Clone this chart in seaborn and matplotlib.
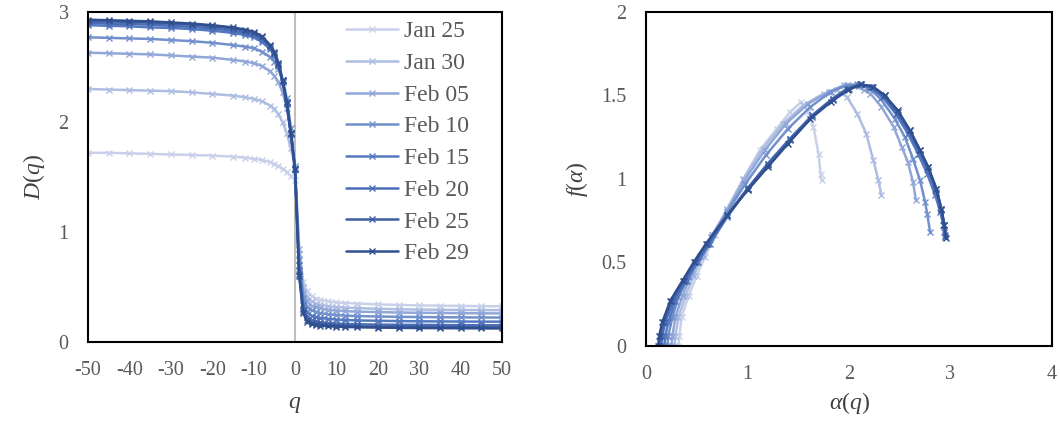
import numpy as np
import pandas as pd
import matplotlib
matplotlib.use('Agg')
import matplotlib.pyplot as plt
import seaborn as sns

dates = ['Jan 25', 'Jan 30', 'Feb 05', 'Feb 10', 'Feb 15', 'Feb 20', 'Feb 25', 'Feb 29']
colors = ['#c9d1ea', '#aebde2', '#91a7d8', '#7190cc', '#5479c0', '#4a6db6', '#3d5fa4', '#2f4f8e']

# generalized dimensions D(q)
q_vals = [-50, -45, -40, -35, -30, -25, -20, -15, -12, -10, -8, -6, -5, -4, -3, -2, -1, 0,
          1, 2, 3, 4, 5, 6, 8, 10, 12, 15, 20, 25, 30, 35, 40, 45, 50]

D_jan25 = [1.72, 1.72, 1.715, 1.71, 1.705, 1.70, 1.695, 1.685, 1.675, 1.665, 1.655, 1.635, 1.62, 1.60, 1.575, 1.545, 1.51, 1.47,
           0.85, 0.55, 0.46, 0.42, 0.395, 0.385, 0.37, 0.36, 0.355, 0.35, 0.342, 0.337, 0.333, 0.33, 0.328, 0.326, 0.325]
D_jan30 = [2.30, 2.295, 2.29, 2.285, 2.28, 2.27, 2.255, 2.24, 2.225, 2.21, 2.19, 2.15, 2.12, 2.07, 2.00, 1.90, 1.76, 1.60,
           0.85, 0.50, 0.41, 0.37, 0.35, 0.34, 0.325, 0.318, 0.313, 0.308, 0.302, 0.298, 0.295, 0.293, 0.291, 0.29, 0.289]
D_feb05 = [2.63, 2.625, 2.62, 2.615, 2.605, 2.595, 2.585, 2.565, 2.55, 2.535, 2.51, 2.46, 2.42, 2.36, 2.27, 2.13, 1.90, 1.60,
           0.80, 0.45, 0.37, 0.33, 0.315, 0.305, 0.292, 0.285, 0.28, 0.276, 0.272, 0.268, 0.266, 0.264, 0.262, 0.261, 0.26]
D_feb10 = [2.77, 2.765, 2.76, 2.755, 2.745, 2.735, 2.72, 2.70, 2.685, 2.67, 2.64, 2.59, 2.55, 2.48, 2.38, 2.22, 1.95, 1.58,
           0.75, 0.40, 0.32, 0.29, 0.275, 0.265, 0.252, 0.245, 0.24, 0.236, 0.232, 0.229, 0.227, 0.225, 0.224, 0.223, 0.222]
D_feb15 = [2.88, 2.875, 2.87, 2.86, 2.855, 2.845, 2.83, 2.81, 2.79, 2.77, 2.73, 2.66, 2.60, 2.51, 2.36, 2.16, 1.89, 1.57,
           0.70, 0.34, 0.27, 0.24, 0.23, 0.22, 0.21, 0.204, 0.20, 0.196, 0.193, 0.19, 0.188, 0.187, 0.186, 0.185, 0.185]
D_feb20 = [2.90, 2.895, 2.89, 2.885, 2.875, 2.865, 2.85, 2.83, 2.81, 2.79, 2.75, 2.68, 2.62, 2.52, 2.37, 2.17, 1.89, 1.57,
           0.65, 0.30, 0.23, 0.20, 0.19, 0.18, 0.172, 0.167, 0.164, 0.161, 0.158, 0.156, 0.155, 0.154, 0.153, 0.152, 0.152]
D_feb25 = [2.92, 2.915, 2.91, 2.905, 2.895, 2.885, 2.87, 2.85, 2.83, 2.81, 2.77, 2.69, 2.63, 2.53, 2.38, 2.18, 1.90, 1.57,
           0.62, 0.28, 0.20, 0.175, 0.165, 0.16, 0.152, 0.148, 0.145, 0.142, 0.139, 0.137, 0.136, 0.135, 0.134, 0.134, 0.133]
D_feb29 = [2.93, 2.925, 2.92, 2.915, 2.905, 2.895, 2.88, 2.86, 2.84, 2.82, 2.78, 2.70, 2.64, 2.54, 2.38, 2.18, 1.90, 1.57,
           0.60, 0.26, 0.185, 0.165, 0.155, 0.15, 0.143, 0.14, 0.137, 0.134, 0.131, 0.129, 0.127, 0.126, 0.125, 0.124, 0.123]

# multifractal spectrum f(alpha)
a_jan25 = [0.32, 0.33, 0.35, 0.42, 0.50, 0.58, 0.68, 0.80, 0.96, 1.12, 1.29, 1.42, 1.53, 1.60, 1.65, 1.70, 1.72, 1.73]
f_jan25 = [0.0, 0.06, 0.17, 0.30, 0.42, 0.53, 0.66, 0.80, 1.00, 1.17, 1.30, 1.40, 1.46, 1.40, 1.31, 1.15, 1.03, 0.99]
a_jan30 = [0.28, 0.29, 0.32, 0.39, 0.47, 0.56, 0.66, 0.80, 0.96, 1.15, 1.35, 1.55, 1.75, 1.88, 1.98, 2.08, 2.17, 2.24, 2.29, 2.32]
f_jan30 = [0.0, 0.06, 0.17, 0.30, 0.42, 0.54, 0.66, 0.82, 1.00, 1.18, 1.33, 1.44, 1.51, 1.53, 1.49, 1.39, 1.27, 1.11, 0.99, 0.90]
a_feb05 = [0.25, 0.26, 0.29, 0.36, 0.45, 0.55, 0.65, 0.80, 0.97, 1.17, 1.38, 1.60, 1.80, 1.95, 2.05, 2.15, 2.21, 2.32, 2.44, 2.52, 2.58, 2.63, 2.66]
f_feb05 = [0.0, 0.06, 0.17, 0.30, 0.43, 0.55, 0.66, 0.81, 0.99, 1.17, 1.33, 1.45, 1.52, 1.56, 1.555, 1.53, 1.51, 1.43, 1.31, 1.19, 1.10, 0.98, 0.87]
a_feb10 = [0.21, 0.22, 0.26, 0.32, 0.42, 0.53, 0.64, 0.80, 0.98, 1.18, 1.40, 1.62, 1.82, 1.98, 2.08, 2.20, 2.31, 2.45, 2.55, 2.63, 2.70, 2.75, 2.77, 2.80]
f_feb10 = [0.0, 0.06, 0.17, 0.29, 0.42, 0.54, 0.65, 0.80, 0.97, 1.14, 1.30, 1.43, 1.52, 1.56, 1.565, 1.54, 1.48, 1.36, 1.25, 1.12, 0.99, 0.86, 0.79, 0.68]
a_feb15 = [0.18, 0.19, 0.22, 0.29, 0.40, 0.51, 0.63, 0.80, 1.00, 1.20, 1.42, 1.64, 1.84, 1.98, 2.10, 2.20, 2.33, 2.46, 2.58, 2.68, 2.77, 2.85, 2.90, 2.93, 2.94]
f_feb15 = [0.0, 0.06, 0.14, 0.27, 0.39, 0.50, 0.61, 0.77, 0.94, 1.09, 1.24, 1.38, 1.48, 1.54, 1.56, 1.55, 1.49, 1.39, 1.27, 1.15, 1.03, 0.90, 0.80, 0.72, 0.68]
a_feb20 = [0.15, 0.16, 0.19, 0.27, 0.38, 0.49, 0.61, 0.80, 1.00, 1.20, 1.42, 1.64, 1.84, 1.99, 2.11, 2.22, 2.34, 2.47, 2.59, 2.70, 2.78, 2.86, 2.91, 2.94, 2.95]
f_feb20 = [0.0, 0.06, 0.14, 0.27, 0.39, 0.50, 0.61, 0.78, 0.94, 1.09, 1.24, 1.38, 1.48, 1.54, 1.565, 1.55, 1.49, 1.39, 1.28, 1.15, 1.05, 0.92, 0.81, 0.72, 0.66]
a_feb25 = [0.13, 0.14, 0.17, 0.25, 0.37, 0.48, 0.60, 0.80, 1.00, 1.20, 1.42, 1.64, 1.84, 2.00, 2.12, 2.23, 2.35, 2.48, 2.60, 2.70, 2.78, 2.86, 2.91, 2.94, 2.95]
f_feb25 = [0.0, 0.06, 0.14, 0.27, 0.39, 0.50, 0.61, 0.78, 0.94, 1.08, 1.23, 1.37, 1.47, 1.54, 1.565, 1.55, 1.50, 1.40, 1.29, 1.17, 1.07, 0.94, 0.82, 0.72, 0.65]
a_feb29 = [0.12, 0.13, 0.16, 0.24, 0.36, 0.47, 0.59, 0.80, 1.00, 1.20, 1.40, 1.62, 1.82, 1.99, 2.12, 2.24, 2.35, 2.48, 2.60, 2.70, 2.78, 2.86, 2.91, 2.94, 2.96]
f_feb29 = [0.0, 0.06, 0.14, 0.27, 0.39, 0.50, 0.61, 0.78, 0.93, 1.07, 1.21, 1.36, 1.46, 1.53, 1.565, 1.55, 1.50, 1.41, 1.29, 1.17, 1.07, 0.94, 0.82, 0.72, 0.645]

D_all = [D_jan25, D_jan30, D_feb05, D_feb10, D_feb15, D_feb20, D_feb25, D_feb29]
a_all = [a_jan25, a_jan30, a_feb05, a_feb10, a_feb15, a_feb20, a_feb25, a_feb29]
f_all = [f_jan25, f_jan30, f_feb05, f_feb10, f_feb15, f_feb20, f_feb25, f_feb29]

sns.set_style('white')
plt.rcParams['font.family'] = ['Liberation Serif', 'DejaVu Serif']
plt.rcParams['mathtext.fontset'] = 'custom'
plt.rcParams['mathtext.rm'] = 'Liberation Serif'
plt.rcParams['mathtext.it'] = 'Liberation Serif:italic'
plt.rcParams['axes.unicode_minus'] = False

fig = plt.figure(figsize=(10.6, 4.23), dpi=100)
ax1 = fig.add_axes([88 / 1060, 1 - 342 / 423, 414 / 1060, 330 / 423])
ax2 = fig.add_axes([646 / 1060, 1 - 345.7 / 423, 406 / 1060, 334 / 423])

ax1.axvline(0, color='#bfbfbf', lw=1.5, zorder=0)

for name, c, D in zip(dates, colors, D_all):
    df = pd.DataFrame({'q': q_vals, 'D': D})
    sns.lineplot(data=df, x='q', y='D', ax=ax1, color=c, lw=1.8, marker='x',
                 markersize=4, markeredgewidth=1, markeredgecolor=c, label=name,
                 estimator=None, sort=False)

for name, c, a, f in zip(dates, colors, a_all, f_all):
    df = pd.DataFrame({'alpha': a, 'f': f})
    sns.lineplot(data=df, x='alpha', y='f', ax=ax2, color=c, lw=1.8, marker='x',
                 markersize=4, markeredgewidth=1, markeredgecolor=c,
                 estimator=None, sort=False, legend=False)

ax1.set_xlim(-50, 50)
ax1.set_ylim(0, 3)
ax1.set_xticks(np.arange(-50, 51, 10))
ax1.set_yticks([0, 1, 2, 3])
ax1.set_xlabel('$q$', fontsize=17, color='#404040', labelpad=10)
ax1.set_ylabel('$D(q)$', fontsize=17, color='#404040', labelpad=8)

ax2.set_xlim(0, 4)
ax2.set_ylim(0, 2)
ax2.set_xticks([0, 1, 2, 3, 4])
ax2.set_yticks([0, 0.5, 1, 1.5, 2])
ax2.set_yticklabels(['0', '0.5', '1', '1.5', '2'])
ax2.set_xlabel(r'$\alpha(q)$', fontsize=17, color='#404040', labelpad=4)
ax2.set_ylabel(r'$f(\alpha)$', fontsize=17, color='#404040', labelpad=8)

for ax in (ax1, ax2):
    ax.tick_params(length=0, labelsize=14.5, labelcolor='#595959')
    ax.tick_params(axis='x', pad=14)
    ax.tick_params(axis='y', pad=14)
    for s in ax.spines.values():
        s.set_color('black')
        s.set_linewidth(1.5)
    ax.grid(False)

ax1.legend(loc='upper left', bbox_to_anchor=(0.623, 0.973), frameon=False,
           fontsize=17, handlelength=2.2, handletextpad=0.25, labelspacing=0.43,
           borderpad=0, borderaxespad=0, labelcolor='#595959')

fig.savefig('out.png', dpi=100)
